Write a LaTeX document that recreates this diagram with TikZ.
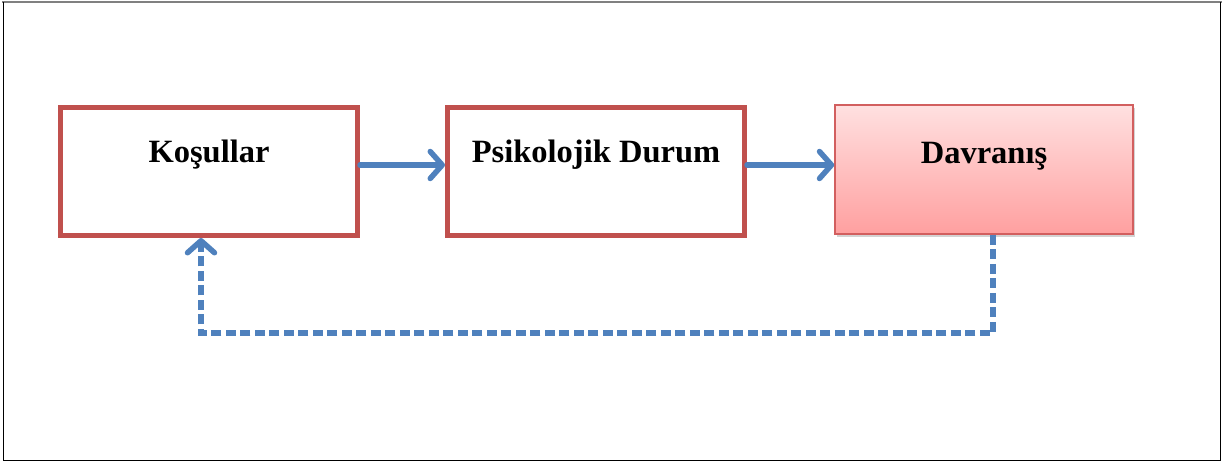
\documentclass[tikz,border=0pt]{standalone}
\usepackage{fontspec}
\setmainfont{Liberation Serif}
\usetikzlibrary{arrows.meta,shadows}
\definecolor{boxred}{RGB}{192,80,77}
\definecolor{arrowblue}{RGB}{79,129,189}
\definecolor{pinktop}{RGB}{255,224,224}
\definecolor{pinkbot}{RGB}{255,160,160}
\definecolor{pinkedge}{RGB}{210,95,95}
\begin{document}
\begin{tikzpicture}[x=1pt,y=-1pt,
  stepbox/.style={draw=boxred,line width=5pt,minimum width=297pt,inner sep=0pt,
    text height=55pt,text depth=73pt,font=\fontsize{32.5}{36}\selectfont\bfseries},
  endbox/.style={draw=pinkedge,line width=1.5pt,minimum width=298pt,inner sep=0pt,
    text height=58pt,text depth=71pt,font=\fontsize{32.5}{36}\selectfont\bfseries,
    top color=pinktop,bottom color=pinkbot,
    drop shadow={opacity=0.35,shadow xshift=2pt,shadow yshift=-3pt}},
  flow/.style={draw=arrowblue,line width=5.5pt,line cap=round,
    -{Straight Barb[length=12pt,width=27pt,line width=5.5pt,round]}},
  feedback/.style={draw=arrowblue,line width=5.5pt,dash pattern=on 10pt off 4.5pt,
    -{Straight Barb[length=12pt,width=27pt,line width=5.5pt,round]}}]
\useasboundingbox (0,0) rectangle (1224,463);
% frame
\draw[gray,line width=2pt] (2,2) -- (1222,2);
\draw[black,line width=1pt] (3,2) -- (3,460.5) -- (1220,460.5) -- (1220,2);
% boxes
\node[stepbox] (b1) at (209,171.5) {Koşullar};
\node[stepbox] (b2) at (596,171.5) {Psikolojik Durum};
\node[endbox] (b3) at (984,169.5) {Davranış};
% flow arrows
\coordinate (ay) at (0,165);
\draw[flow] (b1.east |- ay) -- (b2.west |- ay);
\draw[flow] (b2.east |- ay) -- (b3.west |- ay);
% feedback
\coordinate (c1) at (993,333);
\coordinate (c2) at (201,333);
\draw[black,opacity=0.12,line width=5.5pt,dash pattern=on 10pt off 4.5pt,shift={(2pt,-3pt)}] (b3.south -| c1) -- (c1) -- (c2) -- (b1.south -| c2);
\draw[feedback] (b3.south -| c1) -- (c1) -- (c2) -- (b1.south -| c2);
\end{tikzpicture}
\end{document}
